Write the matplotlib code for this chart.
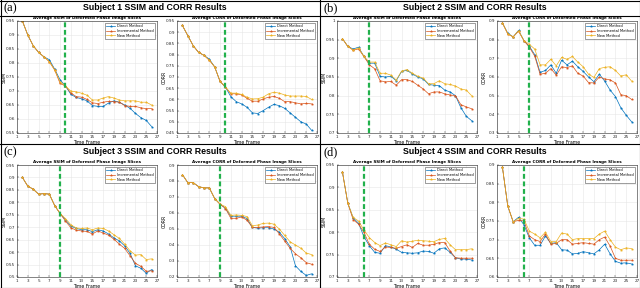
import matplotlib
matplotlib.use("Agg")
import matplotlib.pyplot as plt
from matplotlib.ticker import FuncFormatter
from matplotlib.lines import Line2D
import numpy as np

frames = list(range(2, 27))
method_names = ["Direct Method", "Incremental Method", "New Method"]
panel_labels = ["(a)", "(b)", "(c)", "(d)"]
panel_titles = ["Subject 1 SSIM and CORR Results", "Subject 2 SSIM and CORR Results",
                "Subject 3 SSIM and CORR Results", "Subject 4 SSIM and CORR Results"]
ssim_title = "Average SSIM of Deformed Phase Image Slices"
corr_title = "Average CORR of Deformed Phase Image Slices"
split_frames = [10, 7, 9, 6]

s1_ssim_direct = [0.95,0.90,0.862,0.838,0.822,0.812,0.778,0.740,0.718,0.688,0.677,0.672,0.665,0.648,0.645,0.645,0.657,0.665,0.660,0.650,0.638,0.620,0.605,0.595,0.573]
s1_ssim_incr = [0.95,0.90,0.862,0.838,0.822,0.805,0.775,0.727,0.718,0.693,0.680,0.678,0.670,0.658,0.655,0.660,0.663,0.662,0.660,0.648,0.645,0.645,0.640,0.637,0.637]
s1_ssim_new = [0.95,0.90,0.862,0.838,0.822,0.805,0.775,0.733,0.718,0.700,0.697,0.692,0.685,0.668,0.668,0.675,0.680,0.675,0.668,0.665,0.665,0.665,0.660,0.660,0.650]
s1_corr_direct = [0.93,0.885,0.84,0.81,0.797,0.78,0.745,0.68,0.655,0.612,0.59,0.58,0.565,0.54,0.537,0.55,0.565,0.578,0.572,0.56,0.54,0.52,0.50,0.49,0.462]
s1_corr_incr = [0.93,0.885,0.84,0.81,0.797,0.775,0.745,0.68,0.655,0.625,0.625,0.62,0.605,0.592,0.592,0.602,0.61,0.613,0.605,0.59,0.59,0.585,0.58,0.582,0.58]
s1_corr_new = [0.93,0.885,0.84,0.81,0.797,0.775,0.745,0.68,0.655,0.628,0.628,0.622,0.61,0.602,0.603,0.61,0.625,0.632,0.628,0.62,0.615,0.615,0.615,0.613,0.60]

s2_ssim_direct = [0.953,0.932,0.925,0.930,0.905,0.887,0.887,0.852,0.850,0.852,0.840,0.865,0.868,0.858,0.850,0.845,0.830,0.828,0.827,0.815,0.810,0.800,0.768,0.745,0.733]
s2_ssim_incr = [0.953,0.932,0.922,0.925,0.905,0.883,0.872,0.840,0.837,0.838,0.828,0.843,0.843,0.838,0.828,0.818,0.805,0.810,0.810,0.805,0.802,0.800,0.776,0.770,0.765]
s2_ssim_new = [0.953,0.932,0.922,0.928,0.905,0.890,0.890,0.860,0.860,0.855,0.842,0.866,0.870,0.860,0.852,0.847,0.832,0.832,0.840,0.832,0.830,0.826,0.818,0.815,0.800]
s2_corr_direct = [0.89,0.835,0.815,0.85,0.795,0.765,0.72,0.625,0.635,0.665,0.62,0.69,0.665,0.685,0.655,0.63,0.60,0.575,0.615,0.578,0.53,0.495,0.435,0.395,0.36]
s2_corr_incr = [0.89,0.83,0.815,0.845,0.795,0.76,0.712,0.615,0.62,0.645,0.61,0.655,0.65,0.66,0.62,0.605,0.57,0.568,0.60,0.59,0.585,0.568,0.505,0.50,0.48]
s2_corr_new = [0.89,0.832,0.815,0.848,0.795,0.775,0.75,0.665,0.665,0.695,0.66,0.705,0.695,0.71,0.68,0.655,0.615,0.598,0.645,0.652,0.655,0.635,0.605,0.612,0.578]

s3_ssim_direct = [0.90,0.865,0.853,0.833,0.835,0.833,0.787,0.755,0.73,0.705,0.695,0.69,0.69,0.682,0.69,0.685,0.673,0.657,0.645,0.625,0.595,0.545,0.535,0.515,0.53]
s3_ssim_incr = [0.90,0.865,0.853,0.833,0.835,0.833,0.787,0.755,0.725,0.698,0.688,0.685,0.683,0.673,0.685,0.677,0.668,0.652,0.632,0.615,0.585,0.555,0.543,0.523,0.525]
s3_ssim_new = [0.90,0.865,0.853,0.833,0.835,0.833,0.787,0.755,0.735,0.71,0.697,0.695,0.697,0.69,0.697,0.695,0.685,0.67,0.655,0.632,0.605,0.588,0.59,0.57,0.573]
s3_corr_direct = [0.84,0.79,0.79,0.765,0.757,0.757,0.69,0.655,0.63,0.58,0.58,0.58,0.565,0.51,0.505,0.508,0.508,0.50,0.48,0.44,0.39,0.27,0.235,0.21,0.22]
s3_corr_incr = [0.84,0.79,0.79,0.765,0.757,0.757,0.69,0.655,0.628,0.567,0.567,0.575,0.555,0.51,0.51,0.513,0.515,0.51,0.47,0.425,0.38,0.345,0.32,0.29,0.28]
s3_corr_new = [0.84,0.79,0.79,0.765,0.757,0.757,0.69,0.655,0.64,0.585,0.588,0.585,0.578,0.52,0.525,0.535,0.537,0.53,0.50,0.46,0.42,0.40,0.38,0.35,0.34]

s4_ssim_direct = [0.935,0.865,0.832,0.82,0.79,0.77,0.755,0.753,0.77,0.767,0.762,0.755,0.754,0.753,0.754,0.758,0.757,0.753,0.763,0.765,0.755,0.743,0.74,0.74,0.738]
s4_ssim_incr = [0.935,0.865,0.828,0.818,0.80,0.773,0.762,0.757,0.767,0.766,0.764,0.768,0.772,0.766,0.775,0.771,0.771,0.773,0.777,0.777,0.758,0.743,0.742,0.742,0.742]
s4_ssim_new = [0.935,0.865,0.833,0.825,0.805,0.788,0.777,0.77,0.776,0.772,0.768,0.781,0.778,0.78,0.782,0.781,0.78,0.779,0.784,0.786,0.772,0.761,0.761,0.761,0.763]
s4_corr_direct = [0.895,0.79,0.748,0.76,0.74,0.705,0.685,0.685,0.71,0.69,0.692,0.673,0.672,0.662,0.663,0.668,0.665,0.662,0.673,0.688,0.662,0.642,0.637,0.638,0.635]
s4_corr_incr = [0.895,0.79,0.748,0.752,0.75,0.71,0.70,0.695,0.715,0.688,0.69,0.70,0.70,0.688,0.69,0.692,0.69,0.688,0.70,0.707,0.683,0.65,0.645,0.645,0.645]
s4_corr_new = [0.895,0.79,0.748,0.757,0.755,0.723,0.715,0.705,0.72,0.695,0.695,0.718,0.715,0.70,0.703,0.703,0.703,0.703,0.715,0.723,0.70,0.68,0.673,0.678,0.676]

ssim_ylims = [(0.55, 0.95, 0.05), (0.7, 1.0, 0.05), (0.5, 0.95, 0.05), (0.7, 0.95, 0.05)]
corr_ylims = [(0.45, 0.95, 0.05), (0.3, 0.9, 0.1), (0.2, 0.9, 0.1), (0.6, 0.9, 0.05)]

ssim_data = [(s1_ssim_direct, s1_ssim_incr, s1_ssim_new), (s2_ssim_direct, s2_ssim_incr, s2_ssim_new),
             (s3_ssim_direct, s3_ssim_incr, s3_ssim_new), (s4_ssim_direct, s4_ssim_incr, s4_ssim_new)]
corr_data = [(s1_corr_direct, s1_corr_incr, s1_corr_new), (s2_corr_direct, s2_corr_incr, s2_corr_new),
             (s3_corr_direct, s3_corr_incr, s3_corr_new), (s4_corr_direct, s4_corr_incr, s4_corr_new)]

colors = ["#0072BD", "#D95319", "#EDB120"]
markers = ["*", "*", "*"]
W, H = 640, 288
fig = plt.figure(figsize=(6.4, 2.88), dpi=100)
fig.patch.set_facecolor("white")

def fx(x): return x / W
def fy(y): return 1 - y / H

fmt = FuncFormatter(lambda v, p: "%g" % round(v, 4))

def draw_axes(ax, series, lims, title, ylabel, split):
    lo, hi, step = lims
    for vals, c, m, name in zip(series, colors, markers, method_names):
        ax.plot(frames, vals, color=c, lw=0.5, marker=m, ms=1.6, mew=0.3, label=name)
    ax.axvline(split, color="#22B14C", lw=1.6, ls=(0, (2.2, 1.2)))
    ax.set_xlim(1, 27)
    ax.set_ylim(lo, hi)
    ax.set_xticks(np.arange(1, 28, 2))
    ax.set_yticks(np.arange(lo, hi + step / 2, step))
    ax.yaxis.set_major_formatter(fmt)
    ax.grid(True, color="#E6E6E6", lw=0.4)
    ax.set_axisbelow(True)
    ax.tick_params(labelsize=3.0, length=1.2, width=0.3, direction="in", pad=1.5, colors="#262626")
    for s in ax.spines.values():
        s.set_linewidth(0.4)
        s.set_color("#262626")
    ax.set_title(title, fontsize=3.0, fontweight="bold", pad=1.5)
    ax.set_ylabel(ylabel, fontsize=3.3)
    ax.yaxis.set_label_coords(-0.075, 0.5)
    ax.set_xlabel("Time Frame", fontsize=3.3, labelpad=0.6)
    leg = ax.legend(loc="upper right", fontsize=2.6, frameon=True, fancybox=False,
                    edgecolor="#262626", handlelength=2.6, borderpad=0.35, labelspacing=0.2,
                    handletextpad=0.5, borderaxespad=0.5)
    leg.get_frame().set_linewidth(0.4)

panel_origins = [(0, 0), (320, 0), (0, 144), (320, 144)]
for i, (px, py) in enumerate(panel_origins):
    for j, (series, lims, title, ylab) in enumerate([(ssim_data[i], ssim_ylims[i], ssim_title, "SSIM"),
                                                     (corr_data[i], corr_ylims[i], corr_title, "CORR")]):
        left = px + 17 + j * 160
        ax = fig.add_axes([fx(left), fy(py + 133), 140 / W, 112 / H])
        draw_axes(ax, series, lims, title, ylab, split_frames[i])
    fig.text(fx(px + 3), fy(py + 8), panel_labels[i], fontsize=9, family="Liberation Serif",
             ha="left", va="center")
    fig.text(fx(px + 155), fy(py + 8), panel_titles[i], fontsize=6.3, fontweight="bold",
             family="Liberation Sans", ha="center", va="center")
    tb = py + 15.5 if py == 0 else py + 160
    fig.add_artist(Line2D([fx(px), fx(px + 320)], [fy(tb), fy(tb)], color="black", lw=0.8))

# panel borders
fig.add_artist(Line2D([fx(319.5), fx(319.5)], [0, 1], color="black", lw=0.8))
fig.add_artist(Line2D([0, 1], [fy(144), fy(144)], color="black", lw=0.8))
fig.add_artist(Line2D([fx(0.5), fx(0.5)], [0, 1], color="black", lw=0.8))
fig.add_artist(Line2D([fx(639.5), fx(639.5)], [0, 1], color="black", lw=0.8))
fig.add_artist(Line2D([0, 1], [fy(0.5), fy(0.5)], color="black", lw=0.8))
fig.add_artist(Line2D([0, 1], [fy(287.5), fy(287.5)], color="black", lw=0.8))

fig.savefig("out.png", dpi=100)
